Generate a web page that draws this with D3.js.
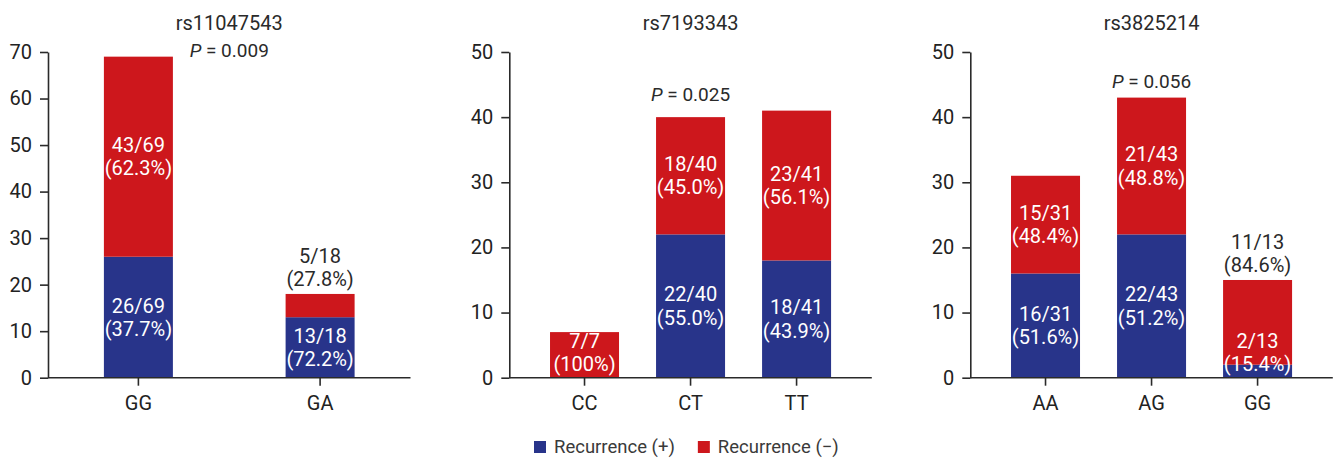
<!DOCTYPE html>
<html>
<head>
<meta charset="utf-8">
<script src="https://cdn.jsdelivr.net/npm/d3@7/dist/d3.min.js"></script>
<style>
  html, body { margin: 0; padding: 0; background: #fff; }
  svg text { font-family: Roboto, "Noto Sans", sans-serif; }
</style>
</head>
<body>
<svg id="chart" width="1336" height="458"></svg>
<script>
// Genotype groups per SNP
const snpTitles = ["rs11047543", "rs7193343", "rs3825214"];
const genotypes = [["GG", "GA"], ["CC", "CT", "TT"], ["AA", "AG", "GG"]];
// Patient counts per genotype
const recurrencePos = [[26, 13], [0, 22, 18], [16, 22, 2]];
const recurrenceNeg = [[43, 5], [7, 18, 23], [15, 21, 13]];
// Segment labels (count / total and percentage)
const posLabels = [
  [["26/69", "(37.7%)"], ["13/18", "(72.2%)"]],
  [null, ["22/40", "(55.0%)"], ["18/41", "(43.9%)"]],
  [["16/31", "(51.6%)"], ["22/43", "(51.2%)"], ["2/13", "(15.4%)"]]
];
const negLabels = [
  [["43/69", "(62.3%)"], ["5/18", "(27.8%)"]],
  [["7/7", "(100%)"], ["18/40", "(45.0%)"], ["23/41", "(56.1%)"]],
  [["15/31", "(48.4%)"], ["21/43", "(48.8%)"], ["11/13", "(84.6%)"]]
];
// Axis maxima and P-value annotations
const yMax = [70, 50, 50];
const pValues = ["0.009", "0.025", "0.056"];
const pAnchorGroup = [null, "CT", "AG"];   // null: centred on the panel
const pAnchorValue = [69, 42.5, 44.5];
const legendLabels = ["Recurrence (+)", "Recurrence (\u2212)"];

const colors = { pos: "#28348a", neg: "#cd171c" };
const axisColor = "#2a2a2a";

const svg = d3.select("#chart");
svg.append("rect").attr("width", 1336).attr("height", 458).attr("fill", "#fff");

const panelLeft = [48, 509.3, 970.3];
const plotW = 362.5;
const plotTop = 52, plotBottom = 377.7;
const barW = 69;
const paddings = [[0.621, 0.308], [0.349, 0.384], [0.349, 0.384]];
const lineGap = 23.3;
const minSegH = 40;   // segments shorter than this cannot hold a two-line label

snpTitles.forEach((title, p) => {
  const g = svg.append("g").attr("transform", `translate(${panelLeft[p]},0)`);
  const x = d3.scaleBand().domain(genotypes[p]).range([0, plotW])
    .paddingInner(paddings[p][0]).paddingOuter(paddings[p][1]);
  const y = d3.scaleLinear().domain([0, yMax[p]]).range([plotBottom, plotTop]);

  // title
  g.append("text").attr("x", plotW / 2).attr("y", 30)
    .attr("text-anchor", "middle").attr("font-size", 20).attr("fill", "#2a2a2a")
    .text(title);

  // bars
  genotypes[p].forEach((gt, i) => {
    const pos = recurrencePos[p][i], neg = recurrenceNeg[p][i];
    const bx = x(gt) + x.bandwidth() / 2 - barW / 2;
    if (pos > 0) {
      g.append("rect").attr("x", bx).attr("width", barW)
        .attr("y", y(pos)).attr("height", y(0) - y(pos)).attr("fill", colors.pos);
    }
    g.append("rect").attr("x", bx).attr("width", barW)
      .attr("y", y(pos + neg)).attr("height", y(pos) - y(pos + neg)).attr("fill", colors.neg);
  });

  // axes
  const yAxis = g.append("g").call(
    d3.axisLeft(y).ticks(yMax[p] / 10).tickSize(8).tickPadding(8).tickSizeOuter(0));
  const xAxis = g.append("g").attr("transform", `translate(0,${plotBottom})`).call(
    d3.axisBottom(x).tickSize(8).tickPadding(10).tickSizeOuter(0));
  [yAxis, xAxis].forEach(a => {
    a.select(".domain").attr("stroke", axisColor).attr("stroke-width", 1.6);
    a.selectAll(".tick line").attr("stroke", axisColor).attr("stroke-width", 1.6);
    a.selectAll(".tick text").attr("font-size", 20).attr("fill", "#222")
      .attr("font-family", "Roboto, 'Noto Sans', sans-serif");
  });
  xAxis.select(".domain").attr("d", `M0,0H${plotW}`);

  // segment labels
  const drawLabel = (lines, cx, firstBaseline, color) => {
    const t = g.append("text").attr("text-anchor", "middle")
      .attr("font-size", 20).attr("fill", color);
    lines.forEach((s, k) => t.append("tspan").attr("x", cx)
      .attr("y", firstBaseline + k * lineGap).text(s));
  };
  const insideBaseline = (lo, hi) => {
    let b2 = (y(lo) + y(hi)) / 2 + 18.7;
    if (b2 > y(0) - 6.5) { b2 = y(0) - 6.5; }
    return b2 - lineGap;
  };
  genotypes[p].forEach((gt, i) => {
    const pos = recurrencePos[p][i], neg = recurrenceNeg[p][i];
    const cx = x(gt) + x.bandwidth() / 2;
    let posOverflow = false;
    if (posLabels[p][i]) {
      posOverflow = (y(0) - y(pos)) < minSegH;
      drawLabel(posLabels[p][i], cx, insideBaseline(0, pos), "#fff");
    }
    if (negLabels[p][i]) {
      const segH = y(pos) - y(pos + neg);
      if (segH < minSegH || posOverflow) {
        drawLabel(negLabels[p][i], cx, y(pos + neg) - 7.5 - lineGap, "#2a2a2a");
      } else {
        drawLabel(negLabels[p][i], cx, insideBaseline(pos, pos + neg), "#fff");
      }
    }
  });

  // P-value
  const px = pAnchorGroup[p] ? x(pAnchorGroup[p]) + x.bandwidth() / 2 : plotW / 2;
  const pt = g.append("text").attr("x", px).attr("y", y(pAnchorValue[p]))
    .attr("text-anchor", "middle").attr("font-size", 19).attr("fill", "#2a2a2a");
  pt.append("tspan").attr("font-style", "italic").text("P");
  pt.append("tspan").text(" = " + pValues[p]);
});

// legend
const legend = svg.append("g").attr("transform", "translate(534,441)");
const legendColors = [colors.pos, colors.neg];
let lx = 0;
legendLabels.forEach((lab, i) => {
  const item = legend.append("g").attr("transform", `translate(${lx},0)`);
  item.append("rect").attr("width", 12).attr("height", 12).attr("fill", legendColors[i]);
  const t = item.append("text").attr("x", 20).attr("y", 12)
    .attr("font-size", 18.5).attr("fill", "#3a3a3a").text(lab);
  lx += 20 + t.node().getComputedTextLength() + 23;
});
</script>
</body>
</html>
